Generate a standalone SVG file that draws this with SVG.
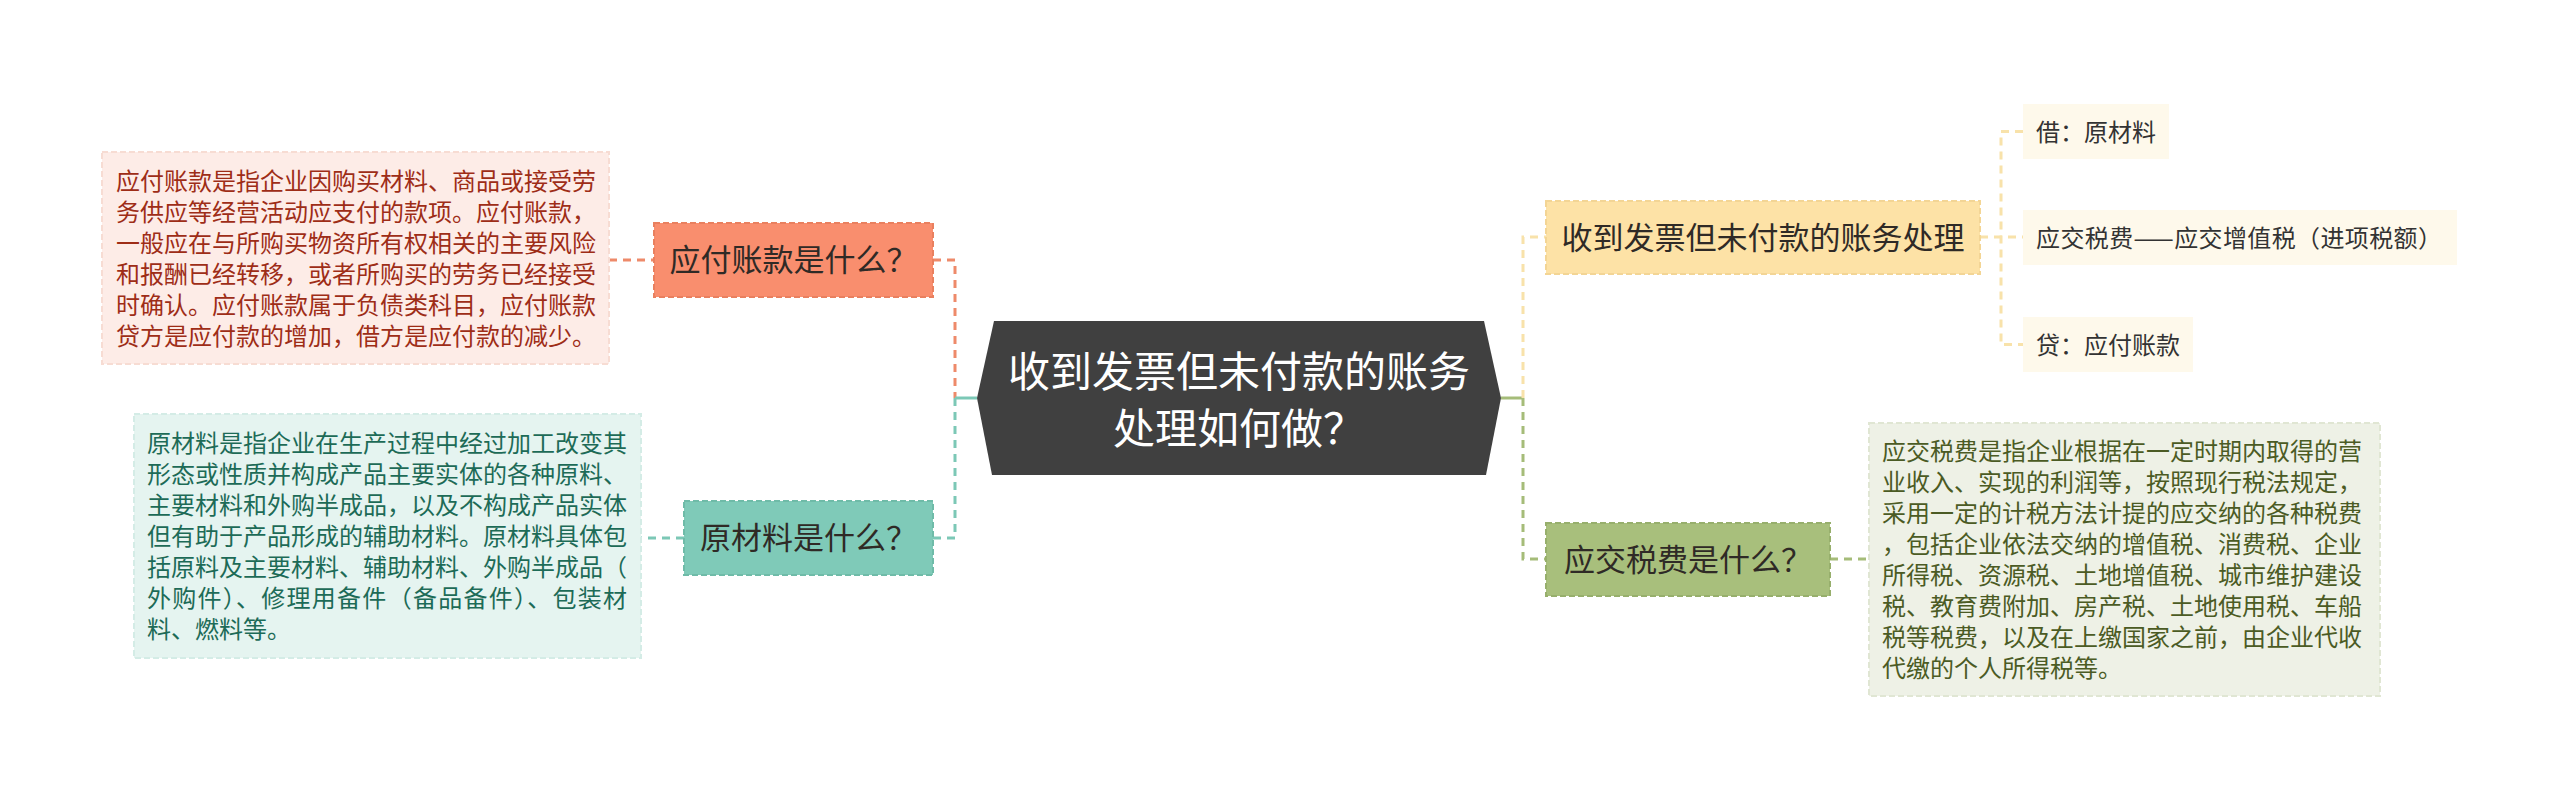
<svg xmlns="http://www.w3.org/2000/svg" width="2560" height="798" viewBox="0 0 2560 798">
<style>
text{font-family:"Noto Sans CJK SC","Noto Sans",sans-serif;}
.desc{font-size:24px;}
.node{font-size:31px;fill:#2f2a26;}
.leaf{font-size:24px;fill:#333333;}
.c{fill:none;stroke-width:3;stroke-dasharray:8 6;}
.solid{fill:none;stroke-width:3;}
</style>
<rect width="2560" height="798" fill="#ffffff"/>
<g id="connectors">
  <path class="c" stroke="#EE8A6A" d="M609,260 H654"/>
  <path class="c" stroke="#EE8A6A" d="M933,260 H955 V398"/>
  <path class="solid" stroke="#7CC8B6" d="M977,398 H955"/>
  <path class="c" stroke="#7CC8B6" d="M955,398 V538 H933"/>
  <path class="c" stroke="#7CC8B6" d="M684,538 H641"/>
  <path class="solid" stroke="#A5BC79" d="M1501,398 H1523"/>
  <path class="c" stroke="#F8E2AA" d="M1523,398 V237 H1546"/>
  <path class="c" stroke="#A5BC79" d="M1523,398 V559 H1546"/>
  <path class="c" stroke="#A5BC79" d="M1830,559 H1869"/>
  <path class="c" stroke="#F8E2AA" d="M1980,237 H2023"/>
  <path class="c" stroke="#F8E2AA" d="M2023,131.5 H2001 V344.5 H2023"/>
</g>
<g id="center">
  <polygon points="977,398 994,321 1484,321 1501,398 1486,475 992,475" fill="#404040"/>
  <text x="1239" y="387" font-size="42" fill="#ffffff" text-anchor="middle">收到发票但未付款的账务</text>
  <text x="1239" y="444" font-size="42" fill="#ffffff" text-anchor="middle">处理如何做？</text>
</g>
<g id="n-payable">
  <rect x="654" y="223" width="279" height="74" fill="#F98E6E" stroke="#E9805F" stroke-width="2" stroke-dasharray="6 3"/>
  <text class="node" x="793.5" y="271" text-anchor="middle">应付账款是什么？</text>
</g>
<g id="d-payable">
  <rect x="102" y="152" width="507" height="212" fill="#FDECE7" stroke="#F7DCD3" stroke-width="2" stroke-dasharray="6 3"/>
  <text class="desc" fill="#9E2D17" x="116">
    <tspan x="116" y="189.5">应付账款是指企业因购买材料、商品或接受劳</tspan>
    <tspan x="116" y="220.5">务供应等经营活动应支付的款项。应付账款，</tspan>
    <tspan x="116" y="251.5">一般应在与所购买物资所有权相关的主要风险</tspan>
    <tspan x="116" y="282.5">和报酬已经转移，或者所购买的劳务已经接受</tspan>
    <tspan x="116" y="313.5">时确认。应付账款属于负债类科目，应付账款</tspan>
    <tspan x="116" y="344.5">贷方是应付款的增加，借方是应付款的减少。</tspan>
  </text>
</g>
<g id="n-material">
  <rect x="684" y="501" width="249" height="74" fill="#7FCAB8" stroke="#6FBBA8" stroke-width="2" stroke-dasharray="6 3"/>
  <text class="node" x="808.5" y="549" text-anchor="middle">原材料是什么？</text>
</g>
<g id="d-material">
  <rect x="134" y="414" width="507" height="244" fill="#E5F4F0" stroke="#D4ECE6" stroke-width="2" stroke-dasharray="6 3"/>
  <text class="desc" fill="#1D6B57">
    <tspan x="147" y="451.5">原材料是指企业在生产过程中经过加工改变其</tspan>
    <tspan x="147" y="482.5">形态或性质并构成产品主要实体的各种原料、</tspan>
    <tspan x="147" y="513.5">主要材料和外购半成品，以及不构成产品实体</tspan>
    <tspan x="147" y="544.5">但有助于产品形成的辅助材料。原材料具体包</tspan>
    <tspan x="147" y="575.5">括原料及主要材料、辅助材料、外购半成品（</tspan>
  </text>
  <text class="desc" fill="#1D6B57" x="147" y="606.5" textLength="480">外购件）、修理用备件（备品备件）、包装材</text>
  <text class="desc" fill="#1D6B57" x="147" y="637.5">料、燃料等。</text>
</g>
<g id="n-process">
  <rect x="1546" y="201" width="434" height="73" fill="#FDE2A6" stroke="#F3D595" stroke-width="2" stroke-dasharray="6 3"/>
  <text class="node" x="1763" y="248.5" text-anchor="middle">收到发票但未付款的账务处理</text>
</g>
<g id="leaf-1">
  <rect x="2023" y="104" width="146" height="55" fill="#FEF9EB"/>
  <text class="leaf" x="2036" y="140.5">借：原材料</text>
</g>
<g id="leaf-2">
  <rect x="2023" y="210" width="434" height="55" fill="#FEF9EB"/>
  <text class="leaf" x="2036" y="246.5" textLength="406">应交税费——应交增值税（进项税额）</text>
</g>
<g id="leaf-3">
  <rect x="2023" y="317" width="170" height="55" fill="#FEF9EB"/>
  <text class="leaf" x="2036" y="353.5">贷：应付账款</text>
</g>
<g id="n-tax">
  <rect x="1546" y="523" width="284" height="73" fill="#A8BF7C" stroke="#97AF6C" stroke-width="2" stroke-dasharray="6 3"/>
  <text class="node" x="1688" y="570.5" text-anchor="middle">应交税费是什么？</text>
</g>
<g id="d-tax">
  <rect x="1869" y="423" width="511" height="273" fill="#EEF1E6" stroke="#E0E6D3" stroke-width="2" stroke-dasharray="6 3"/>
  <text class="desc" fill="#4B5B24">
    <tspan x="1882" y="460">应交税费是指企业根据在一定时期内取得的营</tspan>
    <tspan x="1882" y="491">业收入、实现的利润等，按照现行税法规定，</tspan>
    <tspan x="1882" y="522">采用一定的计税方法计提的应交纳的各种税费</tspan>
    <tspan x="1882" y="553">，包括企业依法交纳的增值税、消费税、企业</tspan>
    <tspan x="1882" y="584">所得税、资源税、土地增值税、城市维护建设</tspan>
    <tspan x="1882" y="615">税、教育费附加、房产税、土地使用税、车船</tspan>
    <tspan x="1882" y="646">税等税费，以及在上缴国家之前，由企业代收</tspan>
    <tspan x="1882" y="677">代缴的个人所得税等。</tspan>
  </text>
</g>
</svg>
